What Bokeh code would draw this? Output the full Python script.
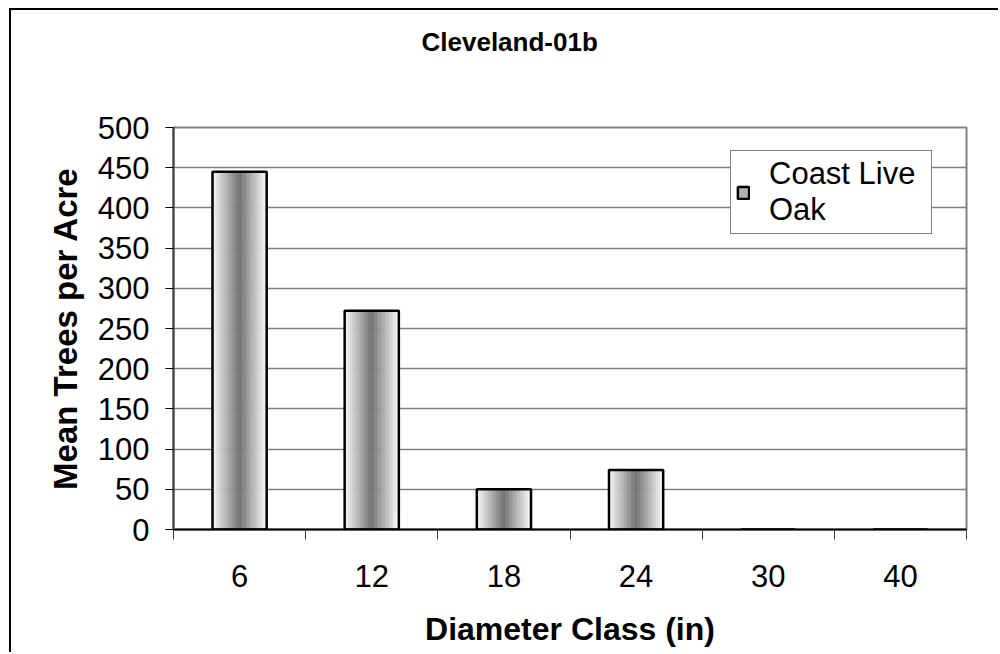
from bokeh.plotting import figure
from bokeh.models import FixedTicker, Legend, LegendItem, ColumnDataSource, Title
from bokeh.embed import file_html
from bokeh.resources import INLINE

# Diameter classes (inches) and mean trees per acre for the plot
classes = ["6", "12", "18", "24", "30", "40"]
trees_per_acre = [445, 272, 50, 74, 0, 0]
series_name = "Coast Live\nOak"
chart_title = "Cleveland-01b"
y_ticks = list(range(0, 501, 50))

FONT = "Liberation Sans"
BAR_FRAC = 0.41      # bar width as a share of one class slot
N_STRIPS = 40        # vertical strips used to shade each bar
LIGHT, DARK = 250, 112


def shade(u):
    """Grey for a horizontal position u in [0, 1] across a bar: light edges, dark centre."""
    t = 1 - abs(2 * u - 1)
    g = round(LIGHT - (LIGHT - DARK) * t)
    return "#%02x%02x%02x" % (g, g, g)


# Shaded strips for every bar, built from the values above.
# Strips are stored position by position (all bars at once), starting a
# quarter of the way in, so the first rows carry a mid grey for the legend.
strip = dict(left=[], right=[], top=[], bottom=[], color=[])
w = BAR_FRAC / N_STRIPS
k0 = N_STRIPS // 4
for k in list(range(k0, N_STRIPS)) + list(range(k0)):
    for i, v in enumerate(trees_per_acre):
        left0 = i + 0.5 - BAR_FRAC / 2
        strip["left"].append(left0 + k * w)
        strip["right"].append(left0 + (k + 1) * w)
        strip["top"].append(v)
        strip["bottom"].append(0)
        strip["color"].append(shade((k + 0.5) / N_STRIPS))
strip_src = ColumnDataSource(strip)

bar_src = ColumnDataSource(dict(
    left=[i + 0.5 - BAR_FRAC / 2 for i in range(len(classes))],
    right=[i + 0.5 + BAR_FRAC / 2 for i in range(len(classes))],
    top=trees_per_acre,
    bottom=[0] * len(classes),
))

p = figure(
    width=989, height=644,
    x_range=(0, len(classes)), y_range=(0, 500),
    output_backend="svg", toolbar_location=None,
    min_border_left=162, min_border_right=34,
    min_border_top=117, min_border_bottom=125,
)
p.margin = (8, 0, 0, 9)
p.styles = {"border-left": "2px solid black", "border-top": "2px solid black"}
p.background_fill_color = "white"
p.border_fill_color = "white"
p.outline_line_color = "#808080"
p.outline_line_width = 2

# Bars: shaded strips, then a black outline
strips = p.quad(left="left", right="right", top="top", bottom="bottom",
                source=strip_src, fill_color="color", line_color="color",
                line_width=0.6)
bars = p.quad(left="left", right="right", top="top", bottom="bottom",
              source=bar_src, fill_alpha=0, line_color="black", line_width=2.5)

# Title: an empty spacer title keeps the real one well above the frame
p.add_layout(Title(text=" ", text_font_size="1px", standoff=68), "above")
p.title.text = chart_title
p.title.text_font = FONT
p.title.text_font_size = "26px"
p.title.text_font_style = "bold"
p.title.text_color = "black"
p.title.align = "left"
p.title.offset = 248
p.title.standoff = 0

# Grid
p.xgrid.visible = False
p.ygrid.grid_line_color = "#808080"
p.ygrid.grid_line_width = 1.5
p.ygrid.ticker = FixedTicker(ticks=y_ticks)

# Y axis
ya = p.yaxis[0]
ya.ticker = FixedTicker(ticks=y_ticks, minor_ticks=[])
ya.axis_line_color = "#404040"
ya.axis_line_width = 2
ya.major_tick_out = 8
ya.major_tick_in = 0
ya.major_tick_line_color = "black"
ya.major_tick_line_width = 1
ya.minor_tick_line_color = None
ya.major_label_text_font = FONT
ya.major_label_text_font_size = "31px"
ya.major_label_text_color = "black"
ya.major_label_standoff = 16
ya.axis_label = "Mean Trees per Acre"
ya.axis_label_text_font = FONT
ya.axis_label_text_font_size = "33px"
ya.axis_label_text_font_style = "bold"
ya.axis_label_text_color = "black"
ya.axis_label_standoff = 11

# X axis: labels at class centres, ticks on class boundaries
xa = p.xaxis[0]
centres = [i + 0.5 for i in range(len(classes))]
xa.ticker = FixedTicker(ticks=centres, minor_ticks=list(range(len(classes) + 1)))
xa.major_label_overrides = {c: lab for c, lab in zip(centres, classes)}
xa.axis_line_color = "black"
xa.axis_line_width = 2
xa.major_tick_out = 0
xa.major_tick_in = 0
xa.minor_tick_out = 10
xa.minor_tick_in = 0
xa.minor_tick_line_color = "#404040"
xa.minor_tick_line_width = 1
xa.major_label_text_font = FONT
xa.major_label_text_font_size = "31px"
xa.major_label_text_color = "black"
xa.major_label_standoff = 25
xa.axis_label = "Diameter Class (in)"
xa.axis_label_text_font = FONT
xa.axis_label_text_font_size = "32px"
xa.axis_label_text_font_style = "bold"
xa.axis_label_text_color = "black"
xa.axis_label_standoff = 21

# Legend
legend = Legend(
    items=[LegendItem(label=series_name, renderers=[strips, bars], index=0)],
    location=(557, 295),
    border_line_color="black", border_line_width=1,
    background_fill_color="white", background_fill_alpha=1,
    label_text_font=FONT, label_text_font_size="31px", label_text_color="black",
    glyph_width=14, glyph_height=15, label_standoff=19, label_width=157,
    padding=5, margin=0, spacing=0,
)
p.add_layout(legend, "center")

open("out.html", "w").write(file_html(p, INLINE))
